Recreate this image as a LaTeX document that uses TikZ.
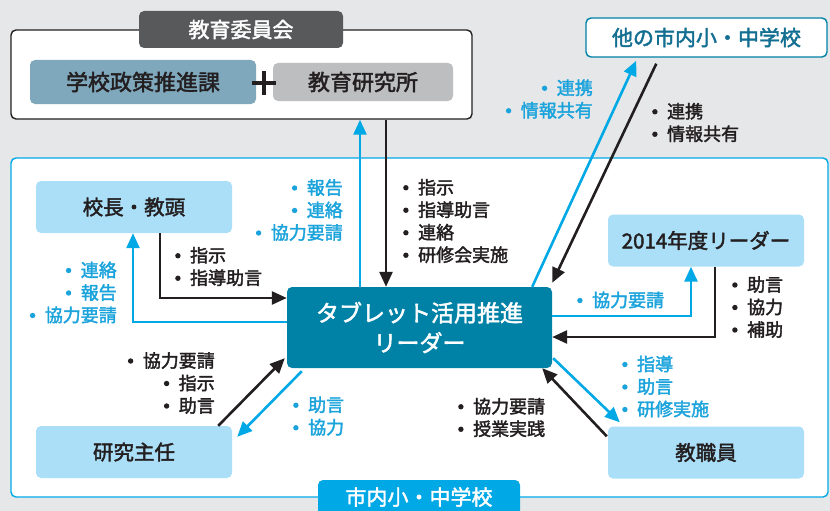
\documentclass[tikz,border=0pt]{standalone}
\usepackage{fontspec}
\setmainfont{Noto Sans CJK JP}[BoldFont={Noto Sans CJK JP},BoldFeatures={FakeBold=2}]
\usetikzlibrary{arrows.meta,calc}
\definecolor{bg}{HTML}{E6E7E8}
\definecolor{cy}{HTML}{00A9E6}
\definecolor{cyl}{HTML}{1BA3DC}
\definecolor{lblue}{HTML}{ABDFF7}
\definecolor{lead}{HTML}{0081A6}
\definecolor{dgrey}{HTML}{58595B}
\definecolor{steel}{HTML}{7FA8BC}
\definecolor{lgrey}{HTML}{BCBEC0}
\definecolor{teal}{HTML}{136F92}
\definecolor{txt}{HTML}{231F20}
\newcommand\bu{\tikz[baseline=0pt]\fill (2.8pt,6.3pt) circle[radius=2.7pt];\hspace{9.5pt}}
\tikzset{
  fs/.style={font=\fontsize{#1}{#1}\selectfont\bfseries},
  bx/.style={rounded corners=5pt, inner sep=0pt, text=txt},
  lbox/.style={bx, fill=lblue, minimum width=196pt, minimum height=52pt, fs=20.5},
  arrB/.style={draw=txt, line width=2.6pt, -{Triangle[length=15pt,width=13pt]}},
  arrC/.style={draw=cy, line width=2.6pt, -{Triangle[length=15pt,width=13pt]}},
  lbl/.style={font=\fontsize{18}{22.5}\selectfont\bfseries, inner sep=0pt},
  lc/.style={lbl, text=cyl},
  lk/.style={lbl, text=txt}
}
\begin{document}
\begin{tikzpicture}[x=1pt,y=-1pt]
\clip (0,0) rectangle (830,511);
\fill[bg] (0,0) rectangle (830,511);
% top board
\node[bx, draw=txt, line width=1.4pt, fill=white, minimum width=461pt, minimum height=89pt] (top) at (241.5,74.5) {};
\node[bx, fill=dgrey, text=white, minimum width=204pt, minimum height=37pt, fs=21] (iinkai) at (241,29.5) {教育委員会};
\node[bx, fill=steel, minimum width=226pt, minimum height=44pt, fs=22] (seisaku) at (143,82) {学校政策推進課};
\node[bx, fill=lgrey, minimum width=180pt, minimum height=38pt, fs=22] (kenkyujo) at (363,82) {教育研究所};
\node[inner sep=0pt] (plus) at (264,83) {};
\fill[txt] ($(plus)+(-12,-2.4)$) rectangle ($(plus)+(12,2.4)$);
\fill[txt] ($(plus)+(-2.4,-12)$) rectangle ($(plus)+(2.4,12)$);
% other schools
\node[bx, draw=lead, line width=1.4pt, fill=white, text=teal, minimum width=241pt, minimum height=39pt, fs=21] (other) at (706.5,37.5) {他の市内小・中学校};
% school region
\node[bx, draw=cy, line width=1.4pt, fill=white, minimum width=817pt, minimum height=339pt] (school) at (419.5,327.5) {};
\node[bx, fill=cy, minimum width=202pt, minimum height=44pt] (tab) at (419,502) {};
\node[text=white, fs=21, inner sep=0pt] (tabtxt) at (419,497) {市内小・中学校};
% nodes
\node[lbox] (kocho) at (134,207) {校長・教頭};
\node[lbox] (y14) at (706,240.5) {2014年度リーダー};
\node[lbox] (kenkyu) at (134,452) {研究主任};
\node[lbox] (kyoshoku) at (706,452.5) {教職員};
\node[bx, fill=lead, text=white, minimum width=265pt, minimum height=81pt, align=center, font=\fontsize{23}{30}\selectfont\bfseries] (leader) at (419.5,327.5) {タブレット活用推進\\リーダー};
% arrows to top
\coordinate (c1) at (360,0);
\coordinate (c2) at (386,0);
\draw[arrC] (c1 |- leader.north) -- (c1 |- top.south);
\draw[arrB] (c2 |- top.south) -- (c2 |- leader.north);
% other schools
\draw[arrC] ($(leader.north east)+(-20,0)$) -- ($(other.south west)+(51,3)$);
\draw[arrB] ($(other.south west)+(71,6)$) -- ($(leader.north east)+(0,-4)$);
% kocho
\coordinate (c3) at (160,298);
\coordinate (c4) at (133,322);
\draw[arrB] (c3 |- kocho.south) -- (c3) -- (c3 -| leader.west);
\draw[arrC] (c4 -| leader.west) -- (c4) -- (c4 |- kocho.south);
% 2014
\coordinate (c5) at (691,316);
\coordinate (c6) at (715,337);
\draw[arrC] (c5 -| leader.east) -- (c5) -- (c5 |- y14.south);
\draw[arrB] (c6 |- y14.south) -- (c6) -- (c6 -| leader.east);
% kenkyu
\draw[arrB] ($(kenkyu.north east)+(-14,0)$) -- ($(leader.south west)+(-2,-10)$);
\draw[arrC] ($(leader.south west)+(15,3)$) -- ($(kenkyu.north east)+(5,11)$);
% kyoshoku
\draw[arrC] ($(leader.south east)+(1,-10)$) -- ($(kyoshoku.north west)+(12,-4)$);
\draw[arrB] ($(kyoshoku.north west)+(-1,10)$) -- ($(leader.south east)+(-10,0)$);
% labels
\node[lc, anchor=east, align=right] (l1) at (593,99) {\bu 連携\\\bu 情報共有};
\node[lk, anchor=west, align=left] (l2) at (652,122.5) {\bu 連携\\\bu 情報共有};
\node[lc, anchor=east, align=right] (l3) at (343,210) {\bu 報告\\\bu 連絡\\\bu 協力要請};
\node[lk, anchor=west, align=left] (l4) at (403,221) {\bu 指示\\\bu 指導助言\\\bu 連絡\\\bu 研修会実施};
\node[lk, anchor=west, align=left] (l5) at (175,266.5) {\bu 指示\\\bu 指導助言};
\node[lc, anchor=east, align=right] (l6) at (117,292.5) {\bu 連絡\\\bu 報告\\\bu 協力要請};
\node[lc, anchor=west, align=left] (l7) at (577,300) {\bu 協力要請};
\node[lk, anchor=west, align=left] (l8) at (732,307) {\bu 助言\\\bu 協力\\\bu 補助};
\node[lk, anchor=east, align=right] (l9) at (215,383) {\bu 協力要請\\\bu 指示\\\bu 助言};
\node[lc, anchor=west, align=left] (l10) at (293,416) {\bu 助言\\\bu 協力};
\node[lc, anchor=west, align=left] (l11) at (622,386.5) {\bu 指導\\\bu 助言\\\bu 研修実施};
\node[lk, anchor=west, align=left] (l12) at (458,417.5) {\bu 協力要請\\\bu 授業実践};
\end{tikzpicture}
\end{document}
